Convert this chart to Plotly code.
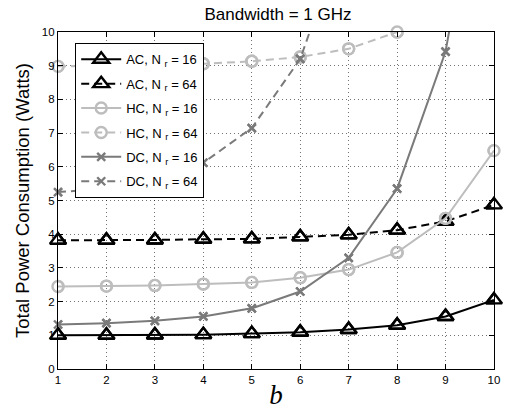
import plotly.graph_objects as go

# Quantization bits b
b = [1, 2, 3, 4, 5, 6, 7, 8, 9, 10]

# Total power consumption (Watts) per architecture and number of receive antennas
ac_16 = [1.00, 1.00, 1.01, 1.02, 1.05, 1.09, 1.17, 1.30, 1.56, 2.05]
ac_64 = [3.82, 3.82, 3.83, 3.85, 3.86, 3.92, 3.98, 4.12, 4.38, 4.87]
hc_16 = [2.45, 2.46, 2.48, 2.52, 2.57, 2.71, 2.95, 3.46, 4.47, 6.48]
hc_64 = [8.98, 9.00, 9.02, 9.06, 9.13, 9.26, 9.50, 10.00, 11.00, 13.00]
dc_16 = [1.32, 1.36, 1.43, 1.56, 1.80, 2.30, 3.30, 5.35, 9.42, 17.5]
dc_64 = [5.25, 5.35, 5.55, 6.12, 7.15, 9.20, 13.3, 21.5, 38.0, 71.0]

x_ticks = list(range(1, 11))
y_ticks = list(range(0, 11))

BLACK = "#000000"
LIGHT = "#bdbdbd"
DARK = "#7a7a7a"
DASH = "8px,5px"

series = [
    ("AC, N <sub>r</sub> = 16", ac_16, BLACK, "solid", "triangle-up-open", 14),
    ("AC, N <sub>r</sub> = 64", ac_64, BLACK, DASH, "triangle-up-open", 14),
    ("HC, N <sub>r</sub> = 16", hc_16, LIGHT, "solid", "circle-open", 11),
    ("HC, N <sub>r</sub> = 64", hc_64, LIGHT, DASH, "circle-open", 11),
    ("DC, N <sub>r</sub> = 16", dc_16, DARK, "solid", "x-thin-open", 8),
    ("DC, N <sub>r</sub> = 64", dc_64, DARK, DASH, "x-thin-open", 8),
]

fig = go.Figure()
for name, ys, color, dash, symbol, size in series:
    # line with legend entry (clipped to the axes)
    fig.add_trace(go.Scatter(
        x=b, y=ys, name=name, mode="lines+markers",
        line=dict(color=color, width=2, dash=dash),
        marker=dict(symbol=symbol, size=size, color=color,
                    line=dict(color=color, width=2.4)),
        legendgroup=name,
    ))
    # markers inside the y-range drawn unclipped so edge points stay whole
    xs_in = [xv for xv, yv in zip(b, ys) if yv <= 10]
    ys_in = [yv for yv in ys if yv <= 10]
    fig.add_trace(go.Scatter(
        x=xs_in, y=ys_in, mode="markers", showlegend=False,
        cliponaxis=False, legendgroup=name, hoverinfo="skip",
        marker=dict(symbol=symbol, size=size, color=color,
                    line=dict(color=color, width=2.4)),
    ))

axis_common = dict(
    showline=True, linecolor="black", linewidth=1.2, mirror="ticks",
    ticks="inside", ticklen=5, tickcolor="black", tickwidth=1,
    showgrid=True, gridcolor="rgba(0,0,0,0.55)", gridwidth=1, griddash="1px,3px",
    zeroline=False,
    tickfont=dict(family="Liberation Sans, Arial, sans-serif", size=11.5, color="black"),
)

fig.update_layout(
    width=512, height=417,
    margin=dict(l=58, r=14, t=32, b=38),
    paper_bgcolor="white", plot_bgcolor="white",
    font=dict(family="Liberation Sans, Arial, sans-serif", color="black"),
    title=dict(text="Bandwidth = 1 GHz", x=(58 + 220) / 512, xanchor="center",
               y=1 - 14 / 417, yanchor="middle",
               font=dict(size=17, family="Liberation Sans, Arial, sans-serif")),
    xaxis=dict(range=[1, 10], tickvals=x_ticks, **axis_common,
               title=dict(text="<i>b</i>", standoff=0,
                          font=dict(family="Liberation Serif, Times New Roman, serif", size=27))),
    yaxis=dict(range=[0, 10], tickvals=y_ticks, **axis_common,
               title=dict(text="Total Power Consumption (Watts)", standoff=7,
                          font=dict(size=18.5))),
    legend=dict(x=0.039, y=0.967, xanchor="left", yanchor="top",
                bgcolor="white", bordercolor="black", borderwidth=1.2,
                font=dict(size=13, family="Liberation Sans, Arial, sans-serif"),
                traceorder="grouped", tracegroupgap=4.5, itemwidth=40),
    showlegend=True,
)

fig.write_html("out.html")
